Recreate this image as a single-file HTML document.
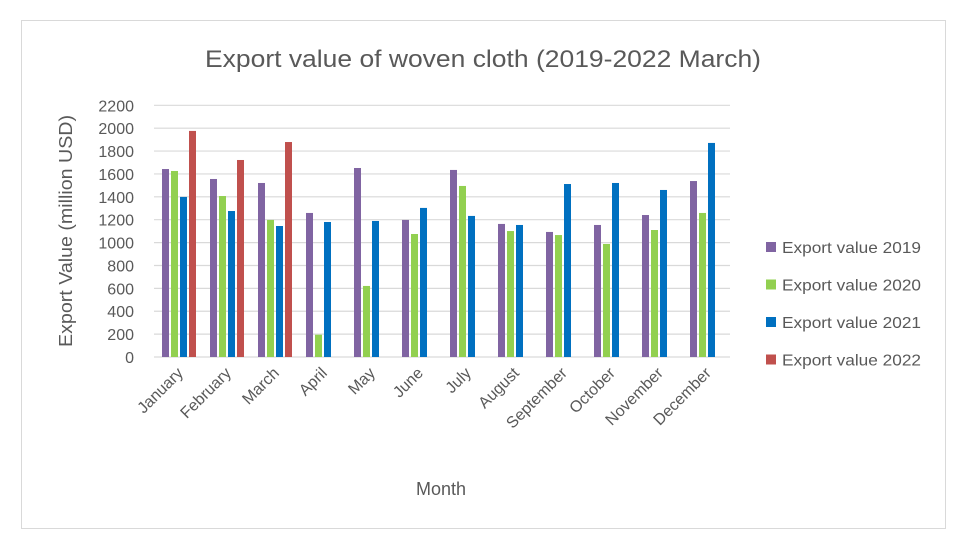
<!DOCTYPE html>
<html><head><meta charset="utf-8"><style>
body{margin:0;background:#fff;font-family:"Liberation Sans",sans-serif}
</style></head><body>
<svg id="c" width="966" height="544" xmlns="http://www.w3.org/2000/svg">
<rect x="21.5" y="20.5" width="924" height="508" fill="#fff" stroke="#d9d9d9"/>
<text x="483" y="67" font-size="24" fill="#595959" text-anchor="middle" textLength="556" lengthAdjust="spacingAndGlyphs">Export value of woven cloth (2019-2022 March)</text>
<text x="441" y="495" font-size="18" fill="#595959" text-anchor="middle">Month</text>
<text transform="translate(72,231) rotate(-90)" font-size="18" fill="#595959" text-anchor="middle" textLength="232" lengthAdjust="spacingAndGlyphs">Export Value (million USD)</text>
<g id="grid"></g><g id="bars"></g><g id="xl"></g><g id="legend"></g>
</svg>
<script>
const months=["January","February","March","April","May","June","July","August","September","October","November","December"];
const v2019=[1643,1556,1521,1259,1652,1198,1635,1163,1093,1154,1241,1538];
const v2020=[1626,1407,1198,195,621,1075,1495,1101,1066,988,1110,1259];
const v2021=[1399,1276,1145,1180,1189,1303,1233,1154,1512,1521,1460,1871];
const v2022=[1976,1722,1879,null,null,null,null,null,null,null,null,null];
const yTicks=[0,200,400,600,800,1000,1200,1400,1600,1800,2000,2200];
const seriesNames=["Export value 2019","Export value 2020","Export value 2021","Export value 2022"];
const colors=["#8064a2","#92d050","#0070c0","#c0504d"];
const NS="http://www.w3.org/2000/svg";
const x0=154,x1=730,y0=357,yTop=105.3,ymax=2200;
const cw=(x1-x0)/months.length;
const y=v=>y0-(v/ymax)*(y0-yTop);
function mk(t,a,p){const e=document.createElementNS(NS,t);for(const k in a)e.setAttribute(k,a[k]);p.appendChild(e);return e;}
const grid=document.getElementById('grid');
yTicks.forEach(t=>{
 const l=mk('line',{x1:x0,x2:x1,y1:y(t),y2:y(t),stroke:'#d9d9d9','stroke-width':1.2},grid);
 
 
 const tx=mk('text',{x:134,y:y(t)+6,'font-size':16,fill:'#595959','text-anchor':'end'},grid);
 tx.textContent=t;
 
 
});
const bars=document.getElementById('bars');
const all=[v2019,v2020,v2021,v2022];
months.forEach((m,i)=>{
 all.forEach((s,j)=>{
  if(s[i]==null)return;
  const r=mk('rect',{x:x0+i*cw+8+j*9,y:y(s[i]),width:7,height:y0-y(s[i]),fill:colors[j]},bars);
  
  
 });
 const cx=x0+i*cw+cw/2+6;
 const tx=mk('text',{x:0,y:0,'font-size':16,fill:'#595959','text-anchor':'end',transform:`translate(${cx},374) rotate(-45)`},document.getElementById('xl'));
 tx.textContent=m;
 
 
});
const lg=document.getElementById('legend');
seriesNames.forEach((n,j)=>{
 const yy=247+j*37.5;
 const g=mk('g',{},lg);
 
 
 mk('rect',{x:766,y:yy-5,width:10,height:10,fill:colors[j]},g);
 const t=mk('text',{x:782,y:yy+6,'font-size':16,fill:'#595959',textLength:139,lengthAdjust:'spacingAndGlyphs'},g);
 t.textContent=n;
});
</script>
</body></html>
